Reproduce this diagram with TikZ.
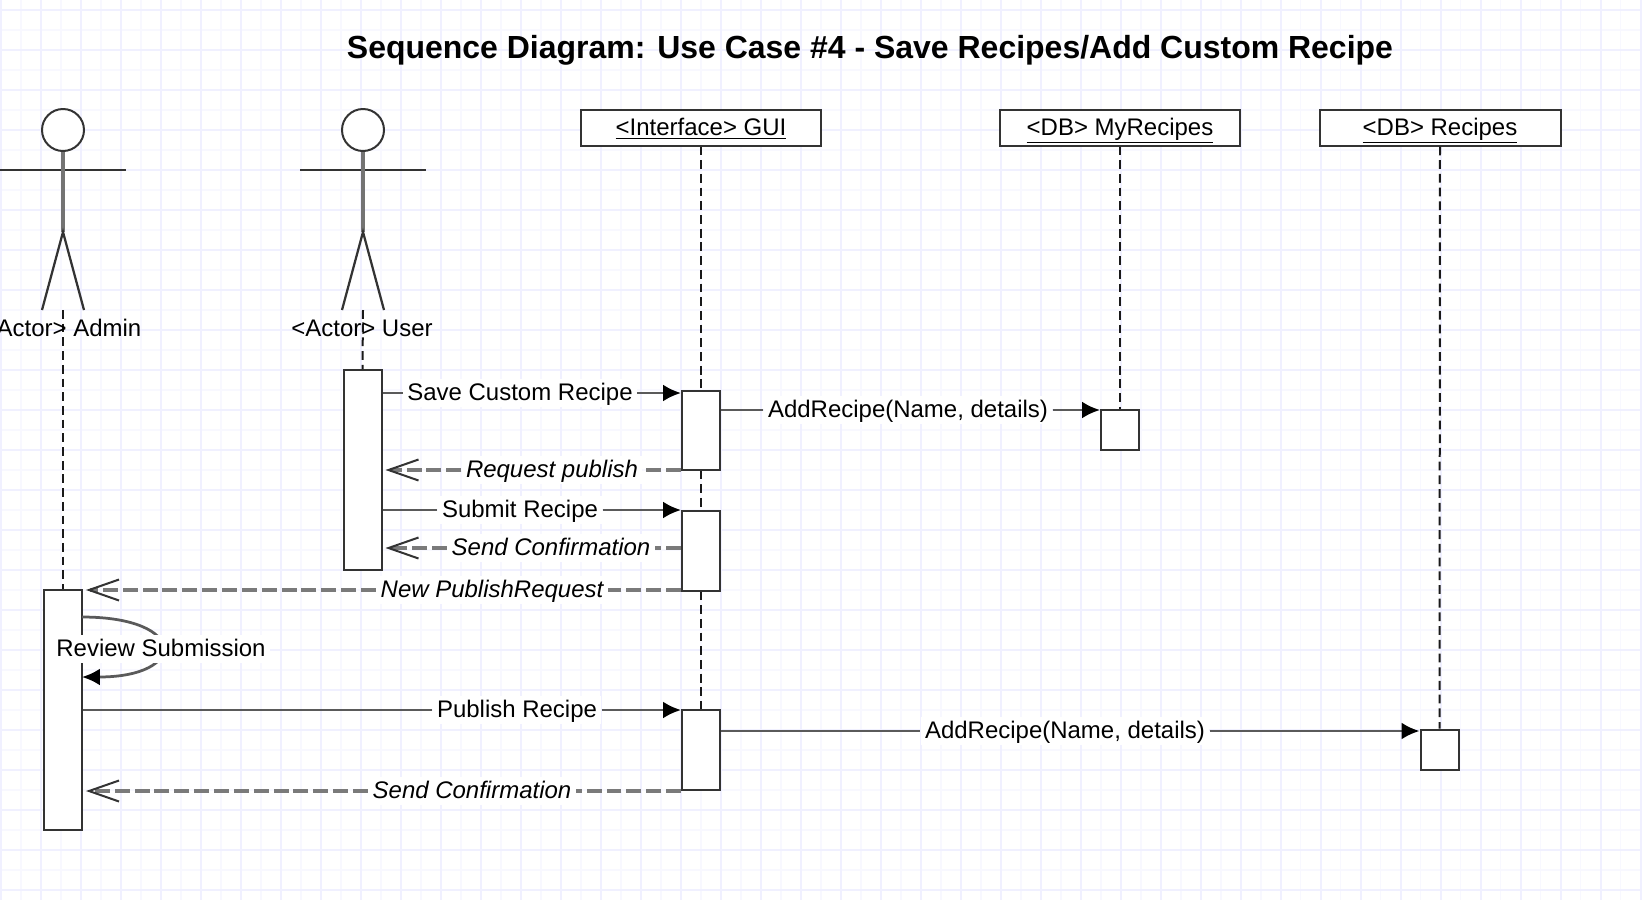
\documentclass[tikz,border=0pt]{standalone}
\usepackage{fontspec}
\setmainfont{Liberation Sans}
\usetikzlibrary{arrows.meta}
\definecolor{gridmajor}{HTML}{F0F0FF}
\definecolor{gridminor}{HTML}{F8F8FF}
\definecolor{boxline}{HTML}{333333}
\definecolor{msgline}{HTML}{5A5A5A}
\definecolor{retline}{HTML}{7A7A7A}
\tikzset{
  head/.style={shape=rectangle, draw=boxline, line width=0.04cm, fill=white, minimum width=4.82cm, minimum height=0.72cm, inner sep=0pt, text height=11pt, text depth=2pt, font=\fontsize{13.65}{16}\selectfont},
  act/.style={shape=rectangle, draw=boxline, line width=0.04cm, fill=white, minimum width=0.76cm, inner sep=0pt},
  lifeline/.style={draw=black!90, line width=0.04cm, dash pattern=on 5pt off 2.8pt},
  limb/.style={draw=boxline, line width=0.045cm},
  lbl/.style={fill=white, inner xsep=2.5pt, inner ysep=1pt, text height=11.5pt, text depth=2.5pt, font=\fontsize{13.65}{16}\selectfont},
  retlbl/.style={lbl, font=\fontsize{13.65}{16}\selectfont\itshape},
  msg/.style={draw=msgline, line width=0.055cm},
  call/.style={msg, -{Latex[black, length=0.36cm, width=0.34cm]}},
  ret/.style={draw=retline, line width=0.062cm, dash pattern=on 8.5pt off 2.8pt},
  reply/.style={ret, shorten >=0.06cm, -{Straight Barb[boxline, length=0.6cm, width=0.42cm, line width=0.04cm]}}
}
\begin{document}
\begin{tikzpicture}[x=0.02cm, y=-0.02cm]
\useasboundingbox (0,0) rectangle (1642,900);
\fill [white] (0,0) rectangle (1642,900);
% grid paper
\draw [gridminor, line width=0.03cm, shift={(21,10)}, step=0.4cm] (-21,-10) grid (1621,890);
\draw [gridmajor, line width=0.04cm, shift={(1,10)}, step=0.8cm] (-1,-10) grid (1641,890);

\node at (870, 50) [font=\fontsize{18.2}{20}\selectfont\bfseries] (title) {Sequence Diagram: Use Case \#4 - Save Recipes/Add Custom Recipe};

% actors
\node at (63, 130) [shape=circle, draw=boxline, line width=0.04cm, fill=white, minimum size=0.84cm, inner sep=0pt] (admhead) {};
\node at (363, 130) [shape=circle, draw=boxline, line width=0.04cm, fill=white, minimum size=0.84cm, inner sep=0pt] (usrhead) {};
\coordinate (admhip) at (63, 232);
\coordinate (usrhip) at (363, 232);
\coordinate (admfoot) at (63, 310);
\coordinate (usrfoot) at (363, 310);
\draw [limb] (0, 170) to (126, 170);
\draw [limb] (300, 170) to (426, 170);
\draw [limb, draw=black!55, line width=0.062cm] (admhead) to (admhip);
\draw [limb, draw=black!55, line width=0.062cm] (usrhead) to (usrhip);
\draw [limb] (42, 310) to (admhip) to (84, 310);
\draw [limb] (342, 310) to (usrhip) to (384, 310);

% heads of the lifelines
\node at (701, 127.5) [head] (gui) {\underline{<Interface> GUI}};
\node at (1120, 127.5) [head] (myrec) {\underline{<DB> MyRecipes}};
\node at (1440, 127.5) [head] (rec) {\underline{<DB> Recipes}};

% activation boxes, placed later than the lifelines would hide them
\node at (63, 710) [act, minimum height=4.8cm] (admbox) {};
\node at (362.5, 470) [act, minimum height=4cm] (usrbox) {};
\node at (701, 430) [act, minimum height=1.58cm] (gui1) {};
\node at (701, 550.5) [act, minimum height=1.6cm] (gui2) {};
\node at (701, 750) [act, minimum height=1.6cm] (gui3) {};
\node at (1120, 430) [act, minimum height=0.8cm] (myrecbox) {};
\node at (1439.5, 749.5) [act, minimum height=0.8cm] (recbox) {};

% lifelines
\draw [lifeline] (admfoot) to (admbox.north);
\draw [lifeline] (usrfoot) to (usrbox.north);
\draw [lifeline] (gui) to (gui1.north);
\draw [lifeline] (gui1.south) to (gui2.north);
\draw [lifeline] (gui2.south) to (gui3.north);
\draw [lifeline] (myrec) to (myrecbox.north);
\draw [lifeline] (rec) to (recbox.north);

\node at (62, 328) [font=\fontsize{13.65}{16}\selectfont] (admlbl) {<Actor> Admin};
\node at (362, 328) [font=\fontsize{13.65}{16}\selectfont] (usrlbl) {<Actor> User};

% messages
\node at (520, 393) [lbl] (save) {Save Custom Recipe};
\draw [msg] (usrbox.east |- save) to (save);
\draw [call] (save) to (gui1.west |- save);

\node at (908, 410) [lbl] (add1) {AddRecipe(Name, details)};
\draw [msg] (gui1.east |- add1) to (add1);
\draw [call] (add1) to (myrecbox.west |- add1);

\node at (552, 470) [retlbl] (pubq) {Request publish};
\draw [ret] (gui1.west |- pubq) to (pubq);
\draw [reply] (pubq) to (usrbox.east |- pubq);

\node at (520, 510) [lbl] (submit) {Submit Recipe};
\draw [msg] (usrbox.east |- submit) to (submit);
\draw [call] (submit) to (gui2.west |- submit);

\node at (551, 548) [retlbl] (conf1) {Send Confirmation};
\draw [ret] (gui2.west |- conf1) to (conf1);
\draw [reply] (conf1) to (usrbox.east |- conf1);

\node at (492, 590) [retlbl] (newreq) {New PublishRequest};
\draw [ret] (gui2.west |- newreq) to (newreq);
\draw [reply] (newreq) to (admbox.east |- newreq);

\coordinate (rev1) at (82, 617);
\coordinate (rev2) at (82, 677);
\draw [call] (rev1) .. controls (188, 617) and (188, 677) .. (rev2);
\node at (161, 649) [lbl] (review) {Review Submission};

\node at (517, 710) [lbl] (publish) {Publish Recipe};
\draw [msg] (admbox.east |- publish) to (publish);
\draw [call] (publish) to (gui3.west |- publish);

\node at (1065, 731) [lbl] (add2) {AddRecipe(Name, details)};
\draw [msg] (gui3.east |- add2) to (add2);
\draw [call] (add2) to (recbox.west |- add2);

\node at (472, 791) [retlbl] (conf2) {Send Confirmation};
\draw [ret] (gui3.west |- conf2) to (conf2);
\draw [reply] (conf2) to (admbox.east |- conf2);
\end{tikzpicture}
\end{document}
